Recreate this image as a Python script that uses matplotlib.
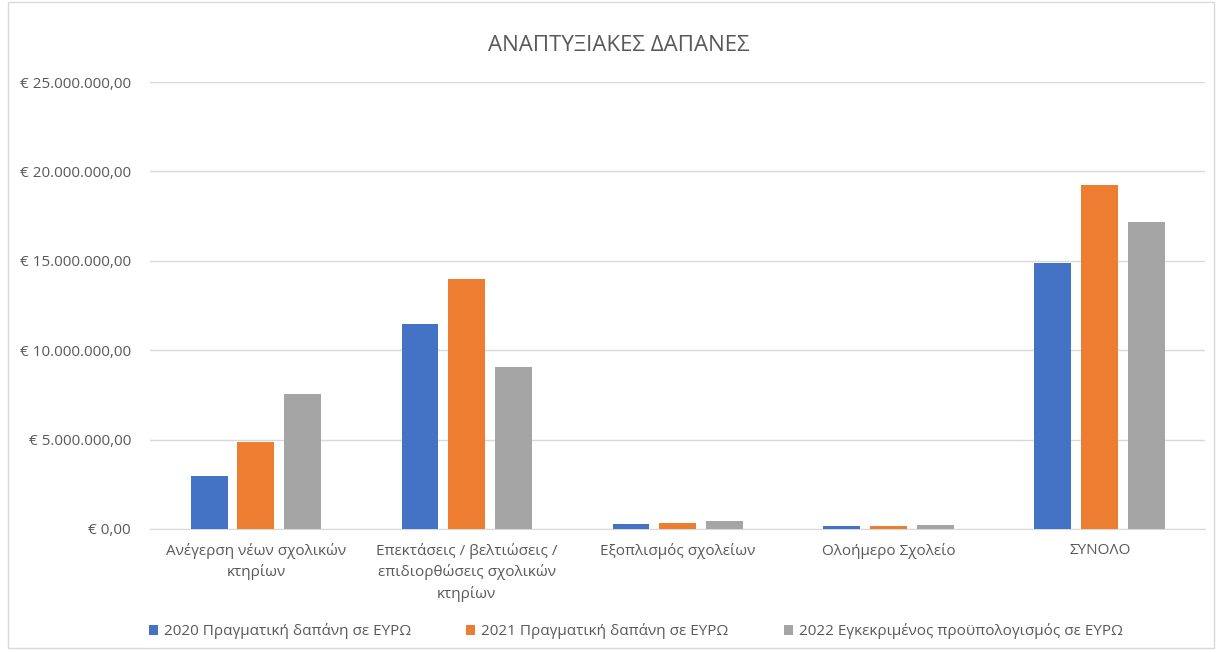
import matplotlib
matplotlib.use("Agg")
import matplotlib.pyplot as plt
import numpy as np
from matplotlib.ticker import FuncFormatter
from matplotlib.patches import Rectangle

plt.rcParams['font.family'] = ['Open Sans', 'DejaVu Sans']

title = "ΑΝΑΠΤΥΞΙΑΚΕΣ ΔΑΠΑΝΕΣ"
categories = ["Ανέγερση νέων σχολικών\nκτηρίων",
              "Επεκτάσεις / βελτιώσεις /\nεπιδιορθώσεις σχολικών\nκτηρίων",
              "Εξοπλισμός σχολείων",
              "Ολοήμερο Σχολείο",
              "ΣΥΝΟΛΟ"]
series_names = ["2020 Πραγματική δαπάνη σε ΕΥΡΩ",
                "2021 Πραγματική δαπάνη σε ΕΥΡΩ",
                "2022 Εγκεκριμένος προϋπολογισμός σε ΕΥΡΩ"]
v2020 = [2960000, 11470000, 300000, 170000, 14880000]
v2021 = [4870000, 13980000, 310000, 150000, 19240000]
v2022 = [7550000, 9060000, 420000, 220000, 17170000]
yticks = [0, 5000000, 10000000, 15000000, 20000000, 25000000]
colors = ["#4472C4", "#ED7D31", "#A5A5A5"]

fig = plt.figure(figsize=(12.18, 6.52), dpi=100)
ax = fig.add_axes([0.1235, 0.1887, 0.866, 0.6855])

x = np.arange(len(categories))
w = 0.175
step = 0.222
for i, (vals, name) in enumerate(zip([v2020, v2021, v2022], series_names)):
    ax.bar(x + (i - 1) * step, vals, width=w, color=colors[i], label=name, zorder=3)

ax.set_xlim(-0.5, 4.5)
ax.set_ylim(0, 25000000)
ax.set_yticks(yticks)

def fmt(v, pos):
    s = f"{v:,.2f}".replace(",", "X").replace(".", ",").replace("X", ".")
    return "€ " + s
ax.yaxis.set_major_formatter(FuncFormatter(fmt))
ax.grid(axis='y', color='#D9D9D9', linewidth=1, zorder=0)
for s in ['left', 'right', 'top']:
    ax.spines[s].set_visible(False)
ax.spines['bottom'].set_color('#D9D9D9')
ax.tick_params(axis='y', length=0, pad=14, labelsize=11, labelcolor='#595959')
ax.tick_params(axis='x', length=0, pad=10, labelsize=11, labelcolor='#595959')
ax.set_xticks(x)
ax.set_xticklabels(categories, linespacing=1.45)

fig.text(0.508, 0.93, title, ha='center', va='center', fontsize=16, color='#595959')

leg = fig.legend(loc='center', bbox_to_anchor=(0.522, 0.032), ncol=3, frameon=False,
                 fontsize=11, handlelength=0.6, handleheight=0.6, handletextpad=0.4,
                 columnspacing=3.6, labelcolor='#595959')

fig.patches.append(Rectangle((8/1218, 4/652), 1206/1218, 646/652, transform=fig.transFigure,
                             fill=False, edgecolor='#D9D9D9', linewidth=1))

fig.savefig("out.png", dpi=100, facecolor='white')
